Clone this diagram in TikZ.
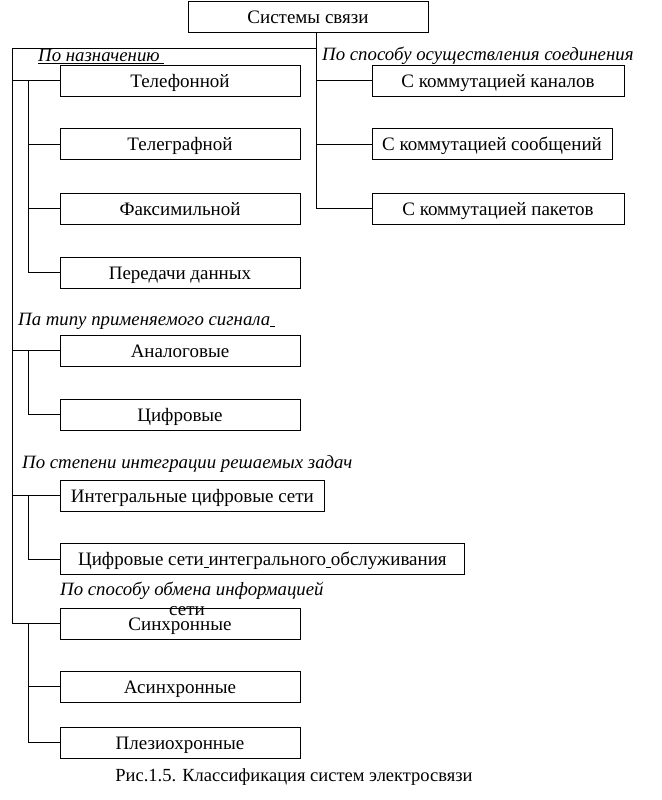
\documentclass[tikz,border=0pt]{standalone}
\usepackage{fontspec}
\setmainfont{Liberation Serif}
\begin{document}
\begin{tikzpicture}[x=1pt,y=-1pt,
  box/.style={draw,line width=0.8pt,inner sep=0pt,minimum height=31pt,text height=13pt,text depth=0pt,font=\fontsize{19}{21}\selectfont},
  lab/.style={inner sep=0pt,font=\fontsize{18.8}{21}\selectfont\itshape},
  ln/.style={line width=0.8pt}]
\useasboundingbox (0,0) rectangle (661,800);
% top
\node[box,minimum width=240pt] (top) at (308,17) {Системы связи};
% right group
\node[box,minimum width=252pt] (kan) at (498,80.5) {С коммутацией каналов};
\node[box,minimum width=240pt] (soob) at (492,144) {С коммутацией сообщений};
\node[box,minimum width=252pt] (pak) at (498,208.5) {С коммутацией пакетов};
\node[lab,anchor=base west] (lr) at (322,61) {По способу осуществления соединения};
% left group 1
\node[box,minimum width=240pt] (tel) at (180,80.5) {Телефонной};
\node[box,minimum width=240pt] (tgr) at (180,144) {Телеграфной};
\node[box,minimum width=240pt] (fax) at (180,208.5) {Факсимильной};
\node[box,minimum width=240pt] (pd) at (180,272.5) {Передачи данных};
\node[lab,anchor=base west] (l1) at (38,62) {\underline{По назначению\ }};
% group 2
\node[box,minimum width=240pt] (an) at (180,350.5) {Аналоговые};
\node[box,minimum width=240pt] (cf) at (180,414.5) {Цифровые};
\node[lab,anchor=base west] (l2) at (18,325) {Па типу применяемого сигнала\underline{\ }};
% group 3
\node[box,minimum width=264pt,anchor=west] (ics) at (60,495.5) {Интегральные цифровые сети};
\node[box,minimum width=404pt,anchor=west] (csio) at (60,559) {Цифровые сети\underline{\ }интегрального\underline{\ }обслуживания};
\node[lab,anchor=base west] (l3) at (22,468) {По степени интеграции решаемых задач};
% group 4
\node[box,minimum width=240pt] (sin) at (180,623.5) {Синхронные};
\node[inner sep=0pt,font=\fontsize{19}{21}\selectfont] (seti) at (187,611) {сети};
\node[box,minimum width=240pt] (asin) at (180,686.5) {Асинхронные};
\node[box,minimum width=240pt] (plez) at (180,742.5) {Плезиохронные};
\node[lab,anchor=base west] (l4) at (60,595) {По способу обмена информацией};
% caption
\node[inner sep=0pt,anchor=base,font=\fontsize{18.5}{21}\selectfont] (cap) at (294,781) {Рис.1.5. Классификация систем электросвязи};
% coordinates
\coordinate (rv) at (316,0);
\coordinate (lv) at (12,0);
\coordinate (iv) at (28,0);
\coordinate (br) at (316,48);
% right connectors
\draw[ln] (top.south -| rv) |- (pak.west);
\draw[ln] (kan.west -| rv) -- (kan.west);
\draw[ln] (soob.west -| rv) -- (soob.west);
% main left bracket
\draw[ln] (br) -- (br -| lv) |- (sin.west);
% group 1
\draw[ln] (tel.west -| lv) -- (tel.west);
\draw[ln] (tel.west -| iv) |- (pd.west);
\draw[ln] (tgr.west -| iv) -- (tgr.west);
\draw[ln] (fax.west -| iv) -- (fax.west);
% group 2
\draw[ln] (an.west -| lv) -- (an.west);
\draw[ln] (an.west -| iv) |- (cf.west);
% group 3
\draw[ln] (ics.west -| lv) -- (ics.west);
\draw[ln] (ics.west -| iv) |- (csio.west);
% group 4
\draw[ln] (sin.west -| iv) |- (plez.west);
\draw[ln] (asin.west -| iv) -- (asin.west);
\end{tikzpicture}
\end{document}
